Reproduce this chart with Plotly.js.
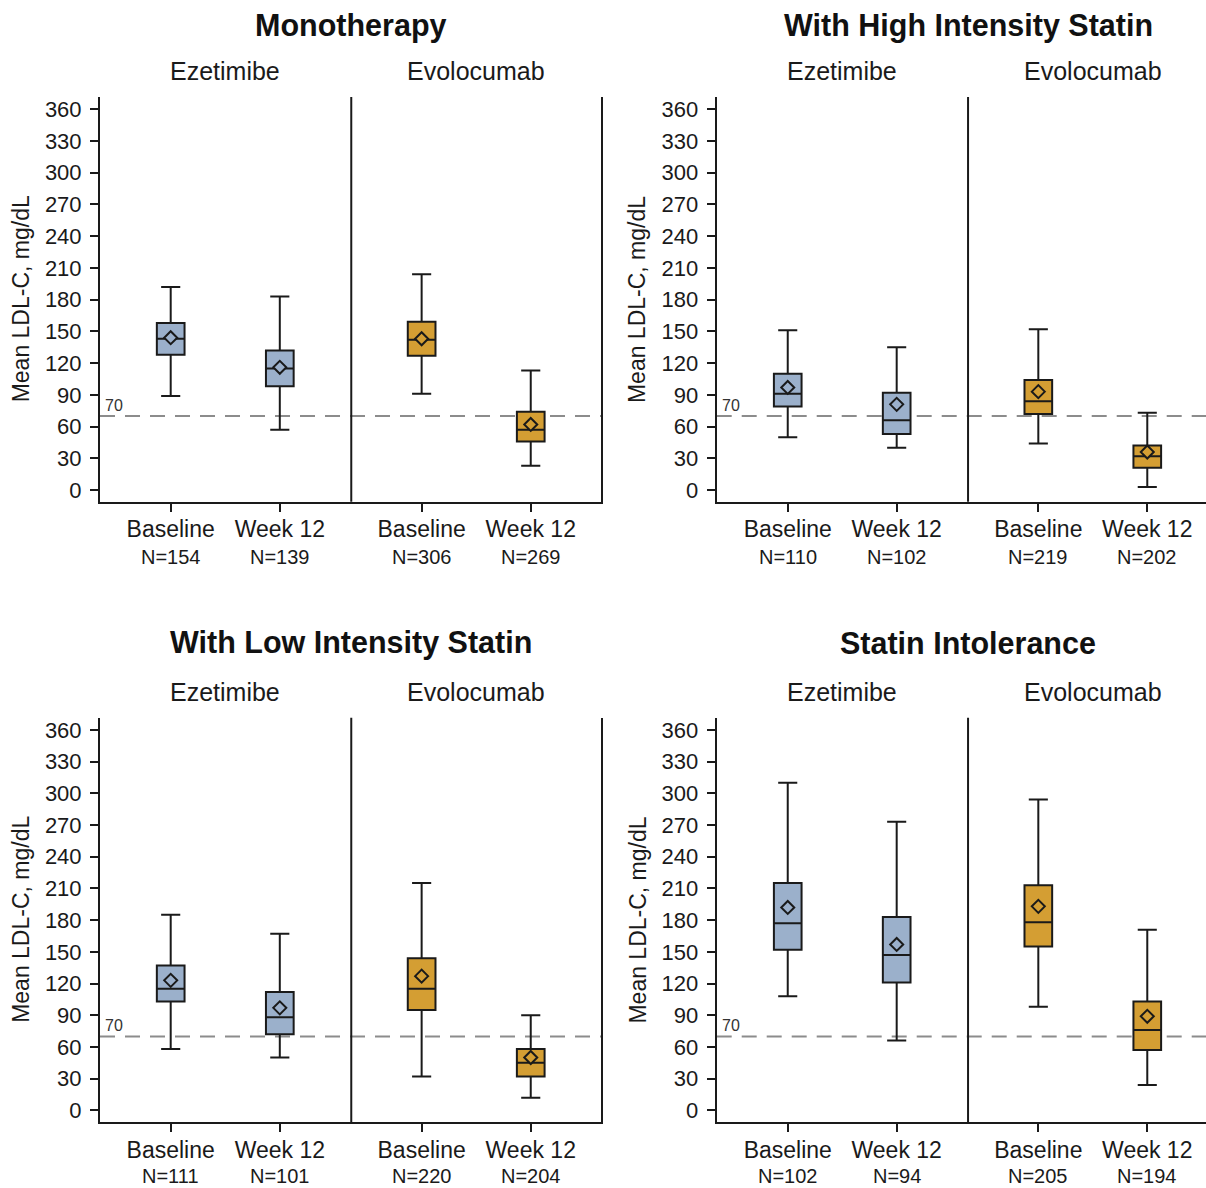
<!DOCTYPE html>
<html>
<head>
<meta charset="utf-8">
<script src="https://cdn.plot.ly/plotly-3.0.1.min.js"></script>
<style>
  html, body { margin: 0; padding: 0; background: #fff; }
  #chart { width: 1206px; height: 1188px; }
</style>
</head>
<body>
<div id="chart"></div>
<script>
// ---------- Data ----------
const panelTitles = ["Monotherapy", "With High Intensity Statin", "With Low Intensity Statin", "Statin Intolerance"];
const groupNames = ["Ezetimibe", "Evolocumab"];
const timepoints = ["Baseline", "Week 12", "Baseline", "Week 12"];
const thresholdLDL = 70;

// order in each panel: Ezetimibe Baseline, Ezetimibe Week 12, Evolocumab Baseline, Evolocumab Week 12
const nMono  = [154, 139, 306, 269];
const nHigh  = [110, 102, 219, 202];
const nLow   = [111, 101, 220, 204];
const nIntol = [102, 94, 205, 194];

const upperMono  = [192, 183, 204, 113];
const q3Mono     = [158, 132, 159, 74];
const medianMono = [143, 115, 142, 57];
const q1Mono     = [128, 98, 127, 46];
const lowerMono  = [89, 57, 91, 23];
const meanMono   = [144, 116, 143, 62];

const upperHigh  = [151, 135, 152, 73];
const q3High     = [110, 92, 104, 42];
const medianHigh = [91, 66, 84, 32];
const q1High     = [79, 53, 72, 21];
const lowerHigh  = [50, 40, 44, 3];
const meanHigh   = [97, 81, 93, 36];

const upperLow  = [185, 167, 215, 90];
const q3Low     = [137, 112, 144, 58];
const medianLow = [115, 88, 115, 45];
const q1Low     = [103, 72, 95, 32];
const lowerLow  = [58, 50, 32, 12];
const meanLow   = [123, 97, 127, 50];

const upperIntol  = [310, 273, 294, 171];
const q3Intol     = [215, 183, 213, 103];
const medianIntol = [177, 147, 178, 76];
const q1Intol     = [152, 121, 155, 57];
const lowerIntol  = [108, 66, 98, 24];
const meanIntol   = [192, 157, 193, 89];

const yTickVals = [0, 30, 60, 90, 120, 150, 180, 210, 240, 270, 300, 330, 360];

// ---------- Build ----------
const panels = [
  {n: nMono,  up: upperMono,  q3: q3Mono,  med: medianMono,  q1: q1Mono,  lo: lowerMono,  mean: meanMono},
  {n: nHigh,  up: upperHigh,  q3: q3High,  med: medianHigh,  q1: q1High,  lo: lowerHigh,  mean: meanHigh},
  {n: nLow,   up: upperLow,   q3: q3Low,   med: medianLow,   q1: q1Low,   lo: lowerLow,   mean: meanLow},
  {n: nIntol, up: upperIntol, q3: q3Intol, med: medianIntol, q1: q1Intol, lo: lowerIntol, mean: meanIntol}
];

const W = 1206, H = 1188;
const FONT = "Liberation Sans, Arial, Helvetica, sans-serif";
const pos = [0, 1, 2.3, 3.3];          // box slots on each panel's x axis
const divider = 1.655;
const colors = ["#9BB0CB", "#D49E33"];
const colDomains = [[100 / W, 601 / W], [716.7 / W, 1]];
const colRanges = [[-0.648, 3.944], [-0.652, 3.839]];
const rowTopPx = [97, 717.7], rowBotPx = [501.7, 1122];
const yRange = [-11, 371.5];
const titleOffsetPx = [72, 74.7], groupOffsetPx = [26, 25.7];

const traces = [], shapes = [], annotations = [];
const layout = {
  width: W, height: H,
  margin: {l: 0, r: 0, t: 0, b: 0},
  paper_bgcolor: "#fff", plot_bgcolor: "#fff",
  showlegend: false, boxmode: "overlay",
  font: {family: FONT, color: "#1a1a1a"}
};

panels.forEach((p, i) => {
  const col = i % 2, row = Math.floor(i / 2);
  const sfx = i === 0 ? "" : String(i + 1);
  const xa = "x" + sfx, ya = "y" + sfx;

  layout["xaxis" + sfx] = {
    domain: colDomains[col], range: colRanges[col], anchor: ya,
    showgrid: false, zeroline: false, showline: true, linecolor: "#1a1a1a", linewidth: 2,
    ticks: "outside", ticklen: 8, tickwidth: 2, tickcolor: "#1a1a1a",
    tickvals: pos, ticktext: timepoints, ticklabelstandoff: -2,
    tickfont: {family: FONT, size: 23, color: "#1a1a1a"},
    fixedrange: true
  };
  layout["yaxis" + sfx] = {
    domain: [1 - rowBotPx[row] / H, 1 - rowTopPx[row] / H], range: yRange, anchor: xa,
    showgrid: false, zeroline: false, showline: true, linecolor: "#1a1a1a", linewidth: 2,
    mirror: col === 0,
    ticks: "outside", ticklen: 8, tickwidth: 2, tickcolor: "#1a1a1a",
    tickvals: yTickVals, ticklabelstandoff: 4,
    tickfont: {family: FONT, size: 22, color: "#1a1a1a"},
    fixedrange: true
  };

  // boxes: one trace per treatment group
  [0, 1].forEach(g => {
    const idx = [2 * g, 2 * g + 1];
    traces.push({
      type: "box", xaxis: xa, yaxis: ya,
      x: idx.map(k => pos[k]),
      q1: idx.map(k => p.q1[k]), median: idx.map(k => p.med[k]), q3: idx.map(k => p.q3[k]),
      lowerfence: idx.map(k => p.lo[k]), upperfence: idx.map(k => p.up[k]),
      width: 0.254, whiskerwidth: 0.69, boxpoints: false,
      fillcolor: colors[g], line: {color: "#1a1a1a", width: 2},
      hoverinfo: "skip"
    });
    traces.push({
      type: "scatter", mode: "markers", xaxis: xa, yaxis: ya,
      x: idx.map(k => pos[k]), y: idx.map(k => p.mean[k]),
      marker: {symbol: "diamond", size: 10, color: colors[g], line: {color: "#1a1a1a", width: 2}},
      hoverinfo: "skip"
    });
  });

  // N labels under the tick labels
  p.n.forEach((nv, k) => {
    const ann = {
      xref: xa, yref: "paper", x: pos[k], xanchor: "center",
      text: "N=" + nv, showarrow: false, borderpad: 0,
      font: {family: FONT, size: 20, color: "#1a1a1a"}
    };
    if (row === 0) { ann.y = 1 - 557 / H; ann.yanchor = "middle"; }
    else { ann.y = 0; ann.yanchor = "bottom"; }
    annotations.push(ann);
  });

  // reference line at 70
  shapes.push({
    type: "line", xref: xa + " domain", yref: ya, x0: 0, x1: 1, y0: thresholdLDL, y1: thresholdLDL,
    line: {color: "#8c8c8c", width: 2, dash: "15px,10px"}, layer: "below"
  });
  // divider between treatment groups
  shapes.push({
    type: "line", xref: xa, yref: ya + " domain", x0: divider, x1: divider, y0: 0, y1: 1,
    line: {color: "#1a1a1a", width: 2}
  });

  annotations.push({
    xref: xa + " domain", yref: ya, x: 0.006, y: thresholdLDL, xanchor: "left", yanchor: "bottom",
    text: String(thresholdLDL), showarrow: false, font: {family: FONT, size: 16, color: "#333"}
  });

  const topPx = rowTopPx[row];
  annotations.push({
    xref: xa, yref: "paper", x: divider, y: 1 - (topPx - titleOffsetPx[row]) / H,
    xanchor: "center", yanchor: "middle", text: "<b>" + panelTitles[i] + "</b>", showarrow: false,
    font: {family: FONT, size: 30.5, color: "#111"}
  });
  [0, 1].forEach(g => {
    annotations.push({
      xref: xa, yref: "paper", x: (pos[2 * g] + pos[2 * g + 1]) / 2, y: 1 - (topPx - groupOffsetPx[row]) / H,
      xanchor: "center", yanchor: "middle", text: groupNames[g], showarrow: false,
      font: {family: FONT, size: 25, color: "#1a1a1a"}
    });
  });
  annotations.push({
    xref: "paper", yref: "paper", x: (colDomains[col][0] * W - 79) / W,
    y: 1 - ((rowTopPx[row] + rowBotPx[row]) / 2) / H,
    xanchor: "center", yanchor: "middle", textangle: -90,
    text: "Mean LDL-C, mg/dL", showarrow: false, font: {family: FONT, size: 23, color: "#1a1a1a"}
  });
});

layout.shapes = shapes;
layout.annotations = annotations;

Plotly.newPlot("chart", traces, layout, {staticPlot: true, displayModeBar: false});
</script>
</body>
</html>
